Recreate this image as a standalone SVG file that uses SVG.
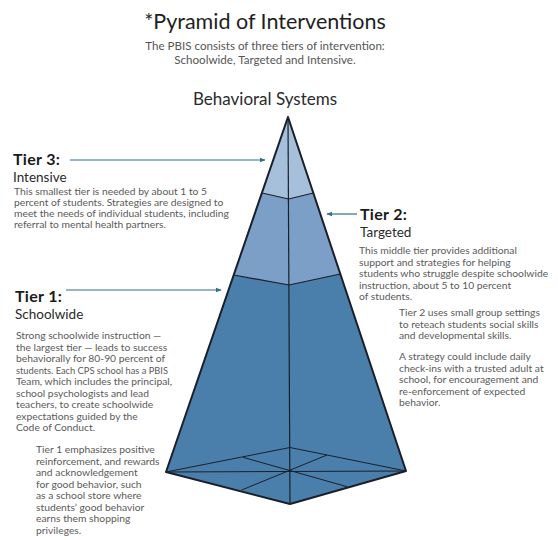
<svg xmlns="http://www.w3.org/2000/svg" width="558" height="540" viewBox="0 0 558 540">
<style>
text{font-family:"Lato","Noto Sans",sans-serif}
.title{font-size:21.5px;fill:#1e1e1e;text-anchor:middle}
.sub{font-size:11.6px;fill:#555;text-anchor:middle}
.sys{font-size:17px;fill:#2a2a2a;text-anchor:middle}
.th{font-size:16px;font-weight:bold;fill:#1a1a1a;letter-spacing:0.3px}
.tn{font-size:13.5px;fill:#2a2a2a}
.body{font-size:10.3px;fill:#5a5a5a}
.arrow{stroke:#2f6f92;stroke-width:1.2;fill:none}
.edge{stroke:#1a1f2a;fill:none;stroke-linejoin:round}
</style>
<defs>
<marker id="ah" viewBox="0 0 10 10" refX="9" refY="5" markerWidth="6" markerHeight="6" markerUnits="userSpaceOnUse" orient="auto">
<path d="M0,1 L10,5 L0,9 Z" fill="#2f6f92"/>
</marker>
</defs>
<rect width="558" height="540" fill="#fff"/>
<g id="header">
<text class="title" x="265" y="29">*Pyramid of Interventions</text>
<text class="sub" x="265" y="50">The PBIS consists of three tiers of intervention:</text>
<text class="sub" x="265" y="64">Schoolwide, Targeted and Intensive.</text>
<text class="sys" x="265" y="105">Behavioral Systems</text>
</g>
<g id="pyramid">
<polygon points="288,117 166,472 290,504 406,471" fill="#4b7fab"/>
<polygon points="288,117 233.7,275 289,285 340.3,274" fill="#7b9fc6"/>
<polygon points="288,117 262,193 288.6,199 313.4,193" fill="#a6bfdb"/>
<polyline class="edge" stroke-width="1.2" points="262,193 288.6,199 313.4,193"/>
<polyline class="edge" stroke-width="1.2" points="233.7,275 289,285 340.3,274"/>
<line class="edge" stroke-width="1.2" x1="288" y1="117" x2="290" y2="504"/>
<polyline class="edge" stroke-width="1" points="166,472 290,447.5 406,471"/>
<line class="edge" stroke-width="1" x1="166" y1="472" x2="406" y2="471"/>
<line class="edge" stroke-width="1" x1="243" y1="457.3" x2="347" y2="486.7"/>
<line class="edge" stroke-width="1" x1="327" y1="455" x2="241.7" y2="490"/>
<polygon class="edge" stroke-width="2" points="288,117 166,472 290,504 406,471"/>
</g>
<g id="connectors">
<line class="arrow" x1="70" y1="160" x2="265" y2="160" marker-end="url(#ah)"/>
<line class="arrow" x1="357" y1="214" x2="327" y2="214" marker-end="url(#ah)"/>
<line class="arrow" x1="66" y1="290" x2="221" y2="290" marker-end="url(#ah)"/>
</g>
<g id="tier3">
<text class="th" x="13" y="165">Tier 3:</text>
<text class="tn" x="13" y="182">Intensive</text>
<text class="body" x="14" y="195">This smallest tier is needed by about 1 to 5</text>
<text class="body" x="14" y="206">percent of students. Strategies are designed to</text>
<text class="body" x="14" y="217">meet the needs of individual students, including</text>
<text class="body" x="14" y="228">referral to mental health partners.</text>
</g>
<g id="tier2">
<text class="th" x="360" y="220">Tier 2:</text>
<text class="tn" x="360" y="237">Targeted</text>
<text class="body" x="359" y="254">This middle tier provides additional</text>
<text class="body" x="359" y="265.5">support and strategies for helping</text>
<text class="body" x="359" y="277">students who struggle despite schoolwide</text>
<text class="body" x="359" y="288.5">instruction, about 5 to 10 percent</text>
<text class="body" x="359" y="300">of students.</text>
<text class="body" x="399" y="316">Tier 2 uses small group settings</text>
<text class="body" x="399" y="327.5">to reteach students social skills</text>
<text class="body" x="399" y="339">and developmental skills.</text>
<text class="body" x="399" y="360">A strategy could include daily</text>
<text class="body" x="399" y="371.5">check-ins with a trusted adult at</text>
<text class="body" x="399" y="383">school, for encouragement and</text>
<text class="body" x="399" y="394.5">re-enforcement of expected</text>
<text class="body" x="399" y="406">behavior.</text>
</g>
<g id="tier1">
<text class="th" x="15" y="302">Tier 1:</text>
<text class="tn" x="15" y="319">Schoolwide</text>
<text class="body" x="16" y="339">Strong schoolwide instruction —</text>
<text class="body" x="16" y="350.5">the largest tier — leads to success</text>
<text class="body" x="16" y="362">behaviorally for 80-90 percent of</text>
<text class="body" x="16" y="373.5" textLength="152" lengthAdjust="spacingAndGlyphs">students. Each CPS school has a PBIS</text>
<text class="body" x="16" y="385">Team, which includes the principal,</text>
<text class="body" x="16" y="396.5">school psychologists and lead</text>
<text class="body" x="16" y="408">teachers, to create schoolwide</text>
<text class="body" x="16" y="419.5">expectations guided by the</text>
<text class="body" x="16" y="431">Code of Conduct.</text>
<text class="body" x="36" y="453">Tier 1 emphasizes positive</text>
<text class="body" x="36" y="464.5">reinforcement, and rewards</text>
<text class="body" x="36" y="476">and acknowledgement</text>
<text class="body" x="36" y="487.5">for good behavior, such</text>
<text class="body" x="36" y="499">as a school store where</text>
<text class="body" x="36" y="510.5">students’ good behavior</text>
<text class="body" x="36" y="522">earns them shopping</text>
<text class="body" x="36" y="533.5">privileges.</text>
</g>
</svg>
